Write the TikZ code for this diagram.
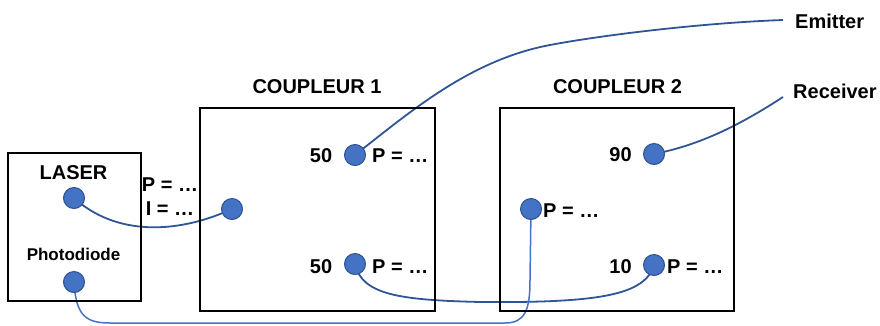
\documentclass[tikz,border=0pt]{standalone}
\usepackage{fontspec}
\setmainfont{Liberation Sans}
\usetikzlibrary{backgrounds}
\definecolor{dotfill}{HTML}{4472C4}
\definecolor{dotline}{HTML}{2F528F}
\definecolor{fiber}{HTML}{2F5597}
\definecolor{fiberlight}{HTML}{4472C4}
\tikzset{
  port/.style={circle, fill=dotfill, draw=dotline, line width=1pt, minimum size=21pt, inner sep=0pt},
  box/.style={draw=black, line width=2pt, inner sep=0pt},
  lbl/.style={font=\bfseries\fontsize{20}{24}\selectfont, inner sep=0pt},
  small/.style={font=\bfseries\fontsize{17}{20}\selectfont, inner sep=0pt},
  fib/.style={draw=fiber, line width=1.8pt},
  fiblight/.style={draw=fiberlight, line width=1.5pt}
}
\begin{document}
\begin{tikzpicture}[x=1pt, y=-1pt]
\useasboundingbox (0,0) rectangle (880,325);
% boxes
\node[box, minimum width=133pt, minimum height=148pt] (lbox) at (74.5,227) {};
\node[box, minimum width=235pt, minimum height=203pt] (cbox1) at (317.5,209.5) {};
\node[box, minimum width=234pt, minimum height=203pt] (cbox2) at (617,209.5) {};
% titles
\node[lbl, anchor=base] (t1) at (317,93) {COUPLEUR 1};
\node[lbl, anchor=base] (t2) at (617.5,93) {COUPLEUR 2};
\node[lbl, anchor=base] (tl) at (73.5,179) {LASER};
\node[small, anchor=base] (tp) at (73.5,260) {Photodiode};
\node[lbl, anchor=base west] (em) at (795,28) {Emitter};
\node[lbl, anchor=base west] (rc) at (793,98) {Receiver};
% laser parameters
\node[lbl, anchor=base] (pl) at (170,191) {P = …};
\node[lbl, anchor=base] (il) at (170,215) {I = …};
% ports
\node[port] (laser) at (74,198) {};
\node[port] (photo) at (74,282) {};
\node[port] (cin) at (232,209) {};
\node[port] (c1t) at (355,155) {};
\node[port] (c1b) at (355,264) {};
\node[port] (c2l) at (531,209) {};
\node[port] (c2t) at (654,154) {};
\node[port] (c2b) at (654,265) {};
% port labels
\node[lbl, anchor=base] (n50a) at (321,162) {50};
\node[lbl, anchor=base west] (p1t) at (372,162) {P = …};
\node[lbl, anchor=base] (n50b) at (321,273) {50};
\node[lbl, anchor=base west] (p1b) at (372,273) {P = …};
\node[lbl, anchor=base] (n90) at (620.5,161) {90};
\node[lbl, anchor=base west] (p2l) at (543,217) {P = …};
\node[lbl, anchor=base] (n10) at (620.5,273) {10};
\node[lbl, anchor=base west] (p2b) at (667,273) {P = …};
% free ends
\coordinate (emend) at (783,20);
\coordinate (rcend) at (783,97);
% fibers
\begin{scope}[on background layer]
\draw[fib] (laser.center) .. controls (115,235) and (175,235) .. (cin.center);
\draw[fib] (c1t.center) .. controls (410,112) and (470,60) .. (550,45) .. controls (600,35.5) and (700,23) .. (emend);
\draw[fib] (c2t.center) .. controls (700,145) and (740,125) .. (rcend);
\draw[fib] (c1b.center) .. controls (362,295) and (400,300) .. (480,302) .. controls (600,303) and (645,295) .. (c2b.center);
\draw[fiblight] (photo.center) .. controls (76,315) and (85,323) .. (110,323) -- (505,323) .. controls (525,323) and (530,310) .. (530,280) -- (c2l.center);
\end{scope}
\end{tikzpicture}
\end{document}
